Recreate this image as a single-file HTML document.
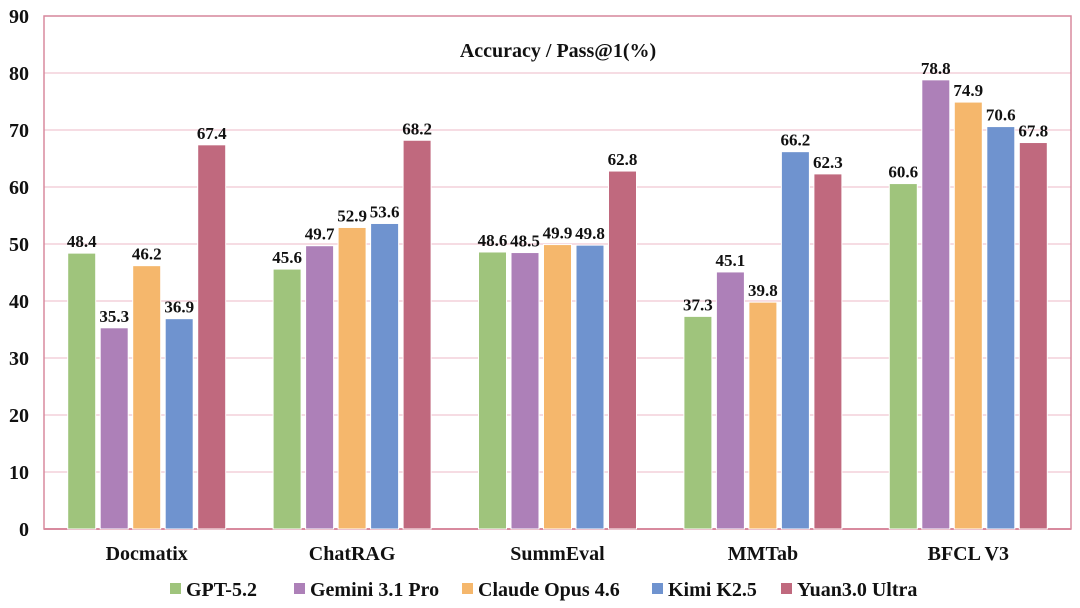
<!DOCTYPE html>
<html><head><meta charset="utf-8"><style>
body{margin:0;background:#fff;width:1080px;height:603px;overflow:hidden;font-family:"Liberation Serif",serif;}
svg text{font-family:"Liberation Serif",serif;font-weight:bold;fill:#111;}
</style></head><body>
<svg id="chart" width="1080" height="603" xmlns="http://www.w3.org/2000/svg"></svg>
<script>
const categories=["Docmatix","ChatRAG","SummEval","MMTab","BFCL V3"];
const seriesNames=["GPT-5.2","Gemini 3.1 Pro","Claude Opus 4.6","Kimi K2.5","Yuan3.0 Ultra"];
const gpt=[48.4,45.6,48.6,37.3,60.6];
const gemini=[35.3,49.7,48.5,45.1,78.8];
const claude=[46.2,52.9,49.9,39.8,74.9];
const kimi=[36.9,53.6,49.8,66.2,70.6];
const yuan=[67.4,68.2,62.8,62.3,67.8];
const yTicks=[0,10,20,30,40,50,60,70,80,90];
const colors=["#9fc47c","#ad80b8","#f5b76c","#6f93cf","#c0697e"];
const series=[gpt,gemini,claude,kimi,yuan];
const L=44,R=1071,T=16,B=529,yMax=90;
const svg=document.getElementById('chart');
const NS="http://www.w3.org/2000/svg";
function y(v){return B-(v/yMax)*(B-T);}
const band=(R-L)/categories.length;
function cx(i){return L+band*(i+0.5);}
function mk(t,a){const e=document.createElementNS(NS,t);for(const k in a)e.setAttribute(k,a[k]);svg.appendChild(e);return e;}
yTicks.forEach(v=>{
 const g=mk('line',{x1:L,x2:R,y1:y(v),y2:y(v),stroke:v===0?'#d88a9e':'#f0c8d2','stroke-width':v===0?2:1.2});
 
 
 const t=mk('text',{x:29,y:y(v)+7,'text-anchor':'end','font-size':20});
 t.textContent=v;
 
 
});
const fr=mk('rect',{x:L,y:T,width:R-L,height:B-T,fill:'none',stroke:'#d88a9e','stroke-width':1.5});


const title=mk('text',{x:558,y:57,'text-anchor':'middle','font-size':20});
title.textContent="Accuracy / Pass@1(%)";


const step=32.5,bw=28;
categories.forEach((c,i)=>{
 series.forEach((s,j)=>{
  const x=cx(i)+(j-2)*step-bw/2;
  const r=mk('rect',{x:x,y:y(s[i]),width:bw,height:B-y(s[i]),fill:colors[j],stroke:'#fff','stroke-width':1});
  
  
  const t=mk('text',{x:x+bw/2,y:y(s[i])-6,'text-anchor':'middle','font-size':17});
  t.textContent=s[i].toFixed(1);
  
  
 });
 const t=mk('text',{x:cx(i),y:560,'text-anchor':'middle','font-size':20});
 t.textContent=c;
 
 
});
const legX=[170,294,462,652,781];
seriesNames.forEach((n,j)=>{
 const r=mk('rect',{x:legX[j],y:583,width:11,height:11,fill:colors[j]});
 
 
 const t=mk('text',{x:legX[j]+16,y:596,'font-size':20});
 t.textContent=n;
 
 
});
</script>
</body></html>
